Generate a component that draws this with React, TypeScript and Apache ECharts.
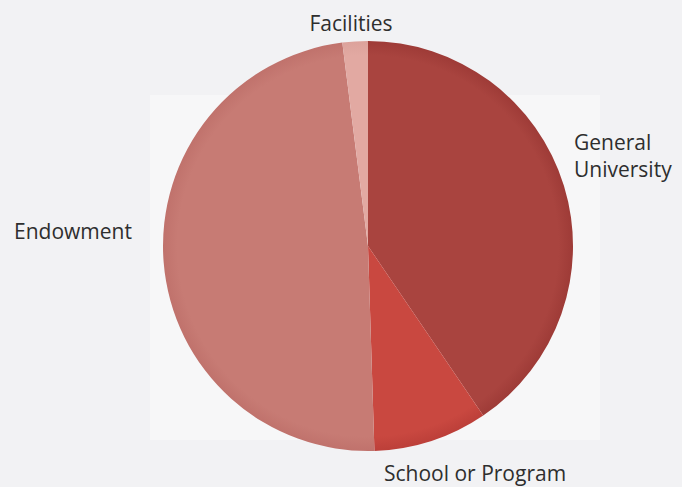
import React, { useEffect, useRef } from "react";
import * as echarts from "echarts";

const categories = ["General University", "School or Program", "Endowment", "Facilities"];
const labelTexts = ["General\nUniversity", "School or Program", "Endowment", "Facilities"];
const values = [40.5, 9, 48.5, 2];
const colors = ["#a9443f", "#c94840", "#c77b74", "#e2a9a2"];
const edgeColors = ["#9e3b37", "#bc3f39", "#c0726c", "#dca29b"];

const CX = 368;
const CY = 246;
const R = 205;

// label anchor positions (text placement only)
const labelPos: { x: number; y: number; align: string }[] = [
  { x: 574, y: 155, align: "left" },
  { x: 384, y: 473, align: "left" },
  { x: 14, y: 231, align: "left" },
  { x: 351, y: 23, align: "center" },
];

export default function App() {
  const ref = useRef<HTMLDivElement>(null);
  useEffect(() => {
    document.body.style.margin = "0";
    if (!ref.current) return;
    const chart = echarts.init(ref.current, undefined, { renderer: "svg" });
    chart.setOption({
      animation: false,
      backgroundColor: "#f2f2f4",
      graphic: [
        {
          type: "rect",
          silent: true,
          z: -10,
          shape: { x: 150, y: 95, width: 450, height: 345 },
          style: { fill: "#f7f7f8" },
        },
      ],
      series: [
        {
          type: "pie",
          center: [CX, CY],
          radius: [0, R],
          startAngle: 90,
          clockwise: true,
          avoidLabelOverlap: false,
          itemStyle: { borderWidth: 0 },
          emphasis: { disabled: true },
          labelLine: { show: false },
          label: {
            show: true,
            position: "outside",
            color: "#2e2e2e",
            fontFamily: "Open Sans",
            fontSize: 21,
            lineHeight: 27,
            formatter: (p: any) => labelTexts[p.dataIndex],
          },
          labelLayout: (p: any) => {
            const lp = labelPos[p.dataIndex];
            return { x: lp.x, y: lp.y, align: lp.align, verticalAlign: "middle" };
          },
          data: categories.map((name, i) => ({
            name,
            value: values[i],
            itemStyle: {
              color: {
                type: "radial",
                x: CX,
                y: CY,
                r: R,
                global: true,
                colorStops: [
                  { offset: 0, color: colors[i] },
                  { offset: 0.93, color: colors[i] },
                  { offset: 1, color: edgeColors[i] },
                ],
              },
            },
          })),
        },
      ],
    });
    return () => chart.dispose();
  }, []);
  return <div ref={ref} style={{ width: 682, height: 487 }} />;
}
